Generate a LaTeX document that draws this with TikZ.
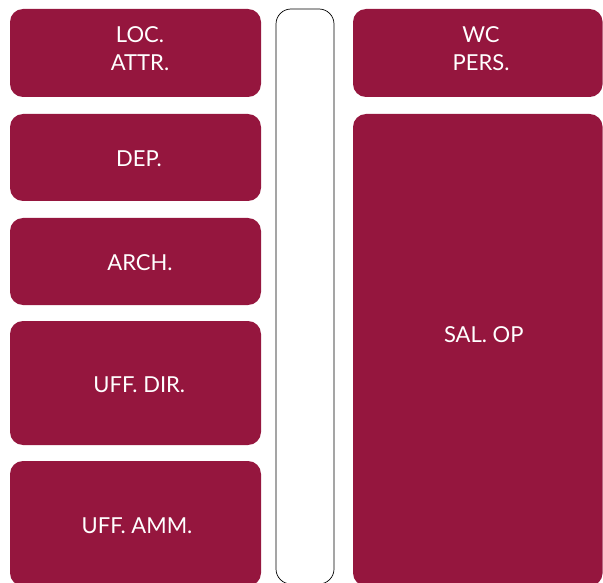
\documentclass[tikz,border=0pt]{standalone}
\usepackage{fontspec}
\setmainfont{Lato}
\definecolor{wine}{RGB}{149,22,62}
\tikzset{
  room/.style={fill=wine, draw=none, rounded corners=13pt, inner sep=0pt},
  corridor/.style={draw=black, line width=0.7pt, fill=white, rounded corners=15pt},
  lbl/.style={text=white, font=\fontsize{22}{28}\selectfont, align=center, inner sep=0pt}
}
\begin{document}
\begin{tikzpicture}[x=1pt,y=-1pt]
\useasboundingbox (0,0) rectangle (603,583);
\begin{scope}
\clip (0,0) rectangle (603,583);
\path[room] (10,9) rectangle (261,97);
\path[room] (10,114) rectangle (261,201);
\path[room] (10,218) rectangle (261,305);
\path[room] (10,321) rectangle (261,445);
\path[room] (10,461) rectangle (261,586);
\path[corridor] (276,9) rectangle (334,584);
\path[room] (353,9) rectangle (602.6,97);
\path[room] (353,114) rectangle (602.6,586);
\end{scope}
\node[lbl] (loc) at (140,48.5) {LOC.\\ATTR.};
\node[lbl] (dep) at (139,159) {DEP.};
\node[lbl] (arch) at (140,263) {ARCH.};
\node[lbl] (dir) at (139.3,384.7) {UFF. DIR.};
\node[lbl] (amm) at (137,525.5) {UFF. AMM.};
\node[lbl] (wc) at (481,49) {WC\\PERS.};
\node[lbl] (sal) at (483.8,334.7) {SAL. OP};
\end{tikzpicture}
\end{document}
